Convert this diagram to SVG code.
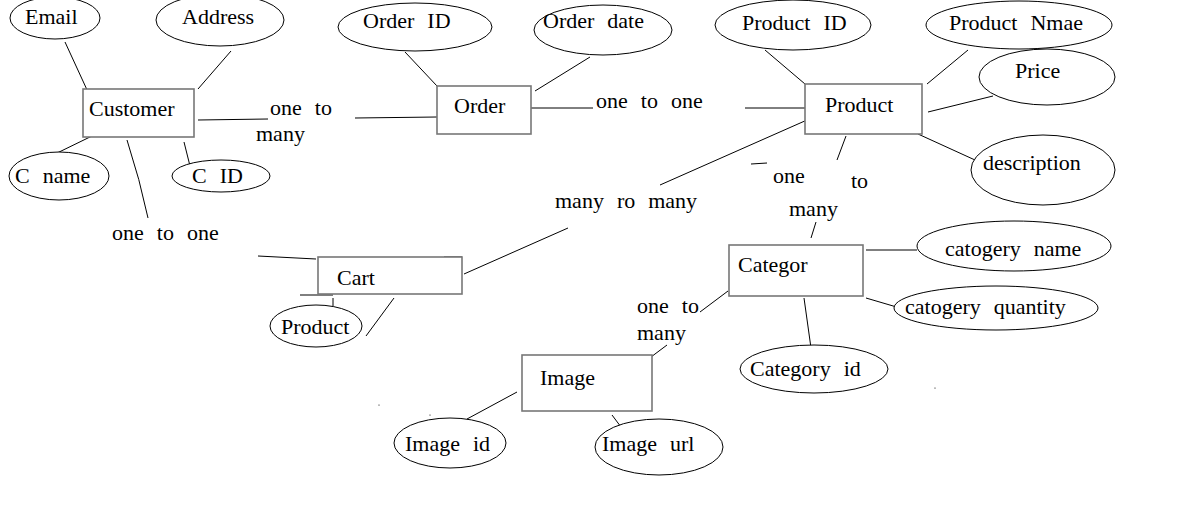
<svg xmlns="http://www.w3.org/2000/svg" width="1179" height="518" viewBox="0 0 1179 518">
<style>
text{font-family:"Liberation Serif","DejaVu Serif",serif;font-size:22px;fill:#000;white-space:pre;word-spacing:1px}
.ent{fill:#fff;stroke:#777;stroke-width:1.6}
.att{fill:#fff;stroke:#000;stroke-width:1}
.ln{stroke:#000;stroke-width:1;fill:none}
</style>
<rect width="1179" height="518" fill="#fff"/>
<g id="connectors">
<line class="ln" x1="65" y1="42" x2="88" y2="92"/>
<line class="ln" x1="231" y1="51" x2="198" y2="89"/>
<line class="ln" x1="53" y1="155" x2="92" y2="136"/>
<line class="ln" x1="184" y1="142" x2="191" y2="170"/>
<path class="ln" d="M127,140 Q140,180 148,218"/>
<line class="ln" x1="198" y1="120" x2="268" y2="119"/>
<line class="ln" x1="355" y1="118" x2="437" y2="117"/>
<line class="ln" x1="405" y1="52" x2="437" y2="86"/>
<line class="ln" x1="590" y1="57" x2="535" y2="91"/>
<line class="ln" x1="531" y1="108" x2="593" y2="108"/>
<line class="ln" x1="745" y1="108" x2="805" y2="108"/>
<line class="ln" x1="765" y1="50" x2="805" y2="84"/>
<line class="ln" x1="968" y1="50" x2="927" y2="84"/>
<line class="ln" x1="993" y1="96" x2="928" y2="112"/>
<line class="ln" x1="918" y1="134" x2="975" y2="160"/>
<line class="ln" x1="846" y1="136" x2="837" y2="160"/>
<line class="ln" x1="807" y1="120" x2="660" y2="185"/>
<line class="ln" x1="568" y1="228" x2="464" y2="274"/>
<line class="ln" x1="751" y1="164" x2="767" y2="163"/>
<line class="ln" x1="811" y1="238" x2="816" y2="222"/>
<line class="ln" x1="866" y1="250" x2="917" y2="250"/>
<line class="ln" x1="866" y1="298" x2="900" y2="308"/>
<line class="ln" x1="804" y1="298" x2="811" y2="348"/>
<line class="ln" x1="700" y1="312" x2="728" y2="291"/>
<line class="ln" x1="651" y1="357" x2="667" y2="345"/>
<line class="ln" x1="467" y1="419" x2="517" y2="392"/>
<line class="ln" x1="612" y1="415" x2="624" y2="431"/>
<line class="ln" x1="258" y1="256" x2="316" y2="259"/>
<line class="ln" x1="444" y1="257" x2="462" y2="257"/>
<line class="ln" x1="300" y1="295" x2="333" y2="295"/>
<line class="ln" x1="333" y1="298" x2="333" y2="307"/>
<line class="ln" x1="394" y1="298" x2="366" y2="336"/>
<circle cx="379" cy="405" r="0.6" fill="#000"/>
<circle cx="430" cy="415" r="0.6" fill="#000"/>
<circle cx="935" cy="388" r="0.6" fill="#000"/>
<text x="270" y="115">one  to</text>
<text x="256" y="141">many</text>
<text x="596" y="108">one  to  one</text>
<text x="555" y="208">many  ro  many</text>
<text x="773" y="183">one</text>
<text x="851" y="188">to</text>
<text x="789" y="216">many</text>
<text x="112" y="240">one  to  one</text>
<text x="637" y="313">one  to</text>
<text x="637" y="340">many</text>
</g>
<g id="customer"><rect class="ent" x="83" y="89" width="111" height="48"/><text x="89" y="116">Customer</text></g>
<g id="email"><ellipse class="att" cx="55" cy="18" rx="45" ry="21"/><text x="25" y="24">Email</text></g>
<g id="address"><ellipse class="att" cx="220" cy="20" rx="64" ry="26"/><text x="182" y="24">Address</text></g>
<g id="cname"><ellipse class="att" cx="59" cy="176" rx="50" ry="24"/><text x="15" y="183">C  name</text></g>
<g id="cid"><ellipse class="att" cx="221" cy="176" rx="49" ry="16"/><text x="192" y="183">C  ID</text></g>
<g id="order"><rect class="ent" x="437" y="86" width="94" height="48"/><text x="454" y="113">Order</text></g>
<g id="orderid"><ellipse class="att" cx="415" cy="27" rx="77" ry="24"/><text x="363" y="28">Order  ID</text></g>
<g id="orderdate"><ellipse class="att" cx="603" cy="30" rx="69" ry="25"/><text x="543" y="28">Order  date</text></g>
<g id="product"><rect class="ent" x="805" y="84" width="117" height="50"/><text x="825" y="112">Product</text></g>
<g id="productid"><ellipse class="att" cx="793" cy="25" rx="78" ry="25"/><text x="742" y="30">Product  ID</text></g>
<g id="productname"><ellipse class="att" cx="1019" cy="25" rx="93" ry="24"/><text x="949" y="30">Product  Nmae</text></g>
<g id="price"><ellipse class="att" cx="1047" cy="77" rx="68" ry="28"/><text x="1015" y="78">Price</text></g>
<g id="description"><ellipse class="att" cx="1043" cy="170" rx="72" ry="35"/><text x="983" y="170">description</text></g>
<g id="category"><rect class="ent" x="729" y="245" width="134" height="51"/><text x="738" y="272">Categor</text></g>
<g id="catname"><ellipse class="att" cx="1014" cy="246" rx="97" ry="25"/><text x="945" y="256">catogery  name</text></g>
<g id="catqty"><ellipse class="att" cx="996" cy="308" rx="102" ry="22"/><text x="905" y="314">catogery  quantity</text></g>
<g id="catid"><ellipse class="att" cx="814" cy="369" rx="74" ry="24"/><text x="750" y="376">Category  id</text></g>
<g id="image"><rect class="ent" x="522" y="355" width="130" height="56"/><text x="540" y="385">Image</text></g>
<g id="imageid"><ellipse class="att" cx="450" cy="443" rx="56" ry="25"/><text x="405" y="451">Image  id</text></g>
<g id="imageurl"><ellipse class="att" cx="659" cy="447" rx="64" ry="28"/><text x="602" y="451">Image  url</text></g>
<g id="cart"><rect class="ent" x="318" y="257" width="144" height="37"/><text x="337" y="285">Cart</text></g>
<g id="cartproduct"><ellipse class="att" cx="316" cy="326" rx="46" ry="21"/><text x="281" y="334">Product</text></g>
</svg>
